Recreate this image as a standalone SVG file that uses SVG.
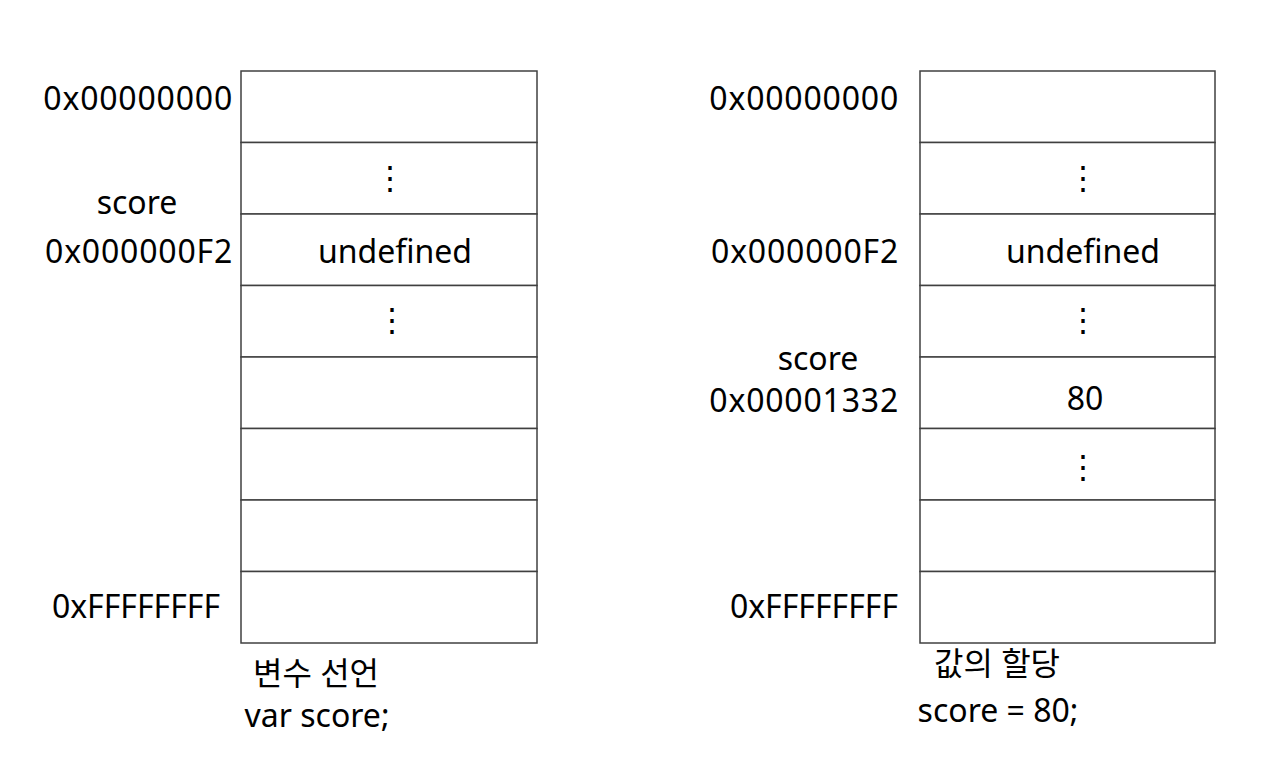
<svg xmlns="http://www.w3.org/2000/svg" width="1286" height="762" viewBox="0 0 1286 762">
<style>
text{font-family:"Noto Sans","Noto Sans CJK KR",sans-serif;font-size:32px;fill:#000}
.r{text-anchor:end}
.m{text-anchor:middle}
.h{letter-spacing:0.8px}
.cell{fill:#fff;stroke:#404040;stroke-width:1.5}
</style>
<rect width="1286" height="762" fill="#fff"/>
<g id="memory-left">
<rect class="cell" x="241" y="71" width="296" height="71.5"/>
<rect class="cell" x="241" y="142.5" width="296" height="71.5"/>
<rect class="cell" x="241" y="214" width="296" height="71.5"/>
<rect class="cell" x="241" y="285.5" width="296" height="71.5"/>
<rect class="cell" x="241" y="357" width="296" height="71.5"/>
<rect class="cell" x="241" y="428.5" width="296" height="71.5"/>
<rect class="cell" x="241" y="500" width="296" height="71.5"/>
<rect class="cell" x="241" y="571.5" width="296" height="71.5"/>
<text class="m" x="390" y="189">⋮</text>
<text class="m" x="395" y="263">undefined</text>
<text class="m" x="392" y="331">⋮</text>
<text class="r h" x="233" y="110">0x00000000</text>
<text class="m" x="137" y="214">score</text>
<text class="r h" x="233" y="263">0x000000F2</text>
<text class="r" x="220" y="618">0xFFFFFFFF</text>
<text class="m" x="316" y="685">변수 선언</text>
<text class="m" x="317" y="727">var score;</text>
</g>
<g id="memory-right">
<rect class="cell" x="920" y="71" width="295" height="71.5"/>
<rect class="cell" x="920" y="142.5" width="295" height="71.5"/>
<rect class="cell" x="920" y="214" width="295" height="71.5"/>
<rect class="cell" x="920" y="285.5" width="295" height="71.5"/>
<rect class="cell" x="920" y="357" width="295" height="71.5"/>
<rect class="cell" x="920" y="428.5" width="295" height="71.5"/>
<rect class="cell" x="920" y="500" width="295" height="71.5"/>
<rect class="cell" x="920" y="571.5" width="295" height="71.5"/>
<text class="m" x="1083" y="189">⋮</text>
<text class="m" x="1083" y="263">undefined</text>
<text class="m" x="1083" y="331">⋮</text>
<text class="m" x="1085" y="410">80</text>
<text class="m" x="1083" y="478">⋮</text>
<text class="r h" x="899" y="110">0x00000000</text>
<text class="r h" x="899" y="263">0x000000F2</text>
<text class="m" x="818" y="370">score</text>
<text class="r h" x="899" y="412">0x00001332</text>
<text class="r" x="898" y="618">0xFFFFFFFF</text>
<text class="m" x="997" y="675">값의 할당</text>
<text class="m" x="998" y="722">score = 80;</text>
</g>
<g id="connectors"/>
</svg>
